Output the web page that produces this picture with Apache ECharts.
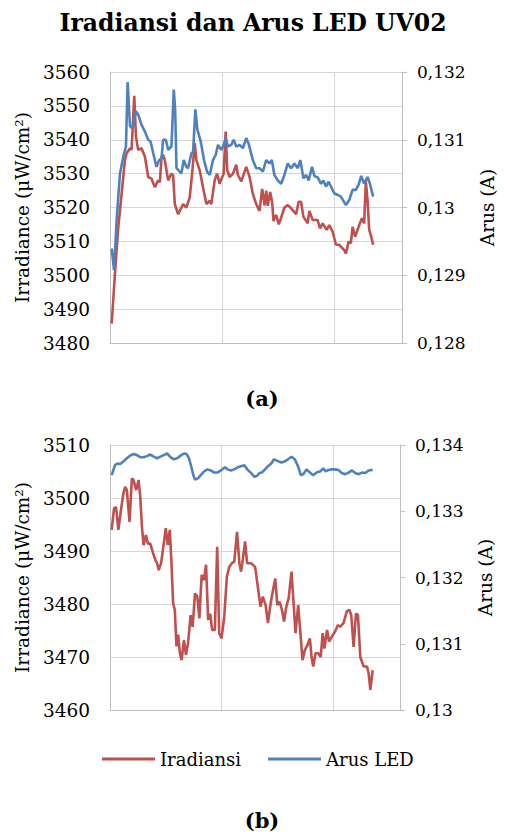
<!DOCTYPE html>
<html><head><meta charset="utf-8">
<script src="https://cdn.jsdelivr.net/npm/echarts@6/dist/echarts.min.js"></script>
<style>html,body{margin:0;padding:0;background:#fff}#c{width:505px;height:836px}</style>
</head><body><div id="c"></div>
<script>
// ---- Data (a) ----
const topIrrX = [1.5,4.4,7.4,10.4,13.3,14.8,17.8,19.2,21.6,23.1,25.1,28.1,31.1,34.0,37.0,39.9,42.9,44.4,45.9,47.3,48.8,51.8,54.7,56.2,57.7,60.7,63.6,65.1,68.0,71.0,73.4,75.4,76.9,79.9,82.8,85.8,88.8,90.2,93.2,95.3,97.6,101.2,103.0,104.4,106.5,109.5,112.4,113.9,116.9,121.3,124.3,127.2,130.2,133.1,135.5,137.6,139.1,140.5,142.6,144.4,145.6,147.9,150.3,152.4,155.3,158.3,161.2,165.7,168.0,170.1,172.2,176.0,177.5,180.5,184.9,187.0,189.3,192.9,195.3,198.2,201.2,204.1,208.6,210.1,212.4,214.5,216.0,218.3,221.9,224.3,226.3,227.8,229.3,230.8,232.2,234.3];
const topIrr = [3485.7,3500.5,3514.3,3524.2,3534,3536,3537.5,3537,3553,3541,3537,3537.5,3535,3529,3528.5,3526,3528,3527.5,3535,3535.5,3534,3528,3530,3529.5,3521,3518,3520,3521,3520,3523,3531,3539,3534,3531,3526,3521,3522,3521,3528,3530,3527,3530,3542.4,3531,3529,3530,3532.6,3529.6,3527.7,3532,3529,3524,3521,3519,3525.5,3520.6,3525,3520.5,3524.6,3521.5,3516,3517.8,3515,3517,3520,3520.7,3519.8,3518,3521.7,3521.7,3517.3,3515.3,3519,3516.3,3516.3,3513.8,3515.3,3513.4,3514.8,3512.9,3509,3509,3507.4,3506.4,3509.9,3509.5,3514.3,3511.4,3514.8,3516.8,3515.3,3527.7,3522.2,3513.4,3511.9,3509];
const topArusX = [1.5,3.6,5.9,8.9,11.8,14.2,15.7,17.8,19.2,20.7,23.1,25.1,28.1,31.1,34.0,36.1,38.5,41.4,43.8,45.9,47.3,49.7,51.8,54.7,56.8,58.0,59.2,62.1,63.6,65.7,68.0,69.5,72.5,74.0,76.0,77.8,80.8,83.7,86.4,88.8,91.7,94.1,96.2,99.1,101.2,103.0,105.0,108.0,110.1,112.4,115.4,118.3,121.3,123.7,127.2,130.2,133.1,136.1,139.1,142.0,144.1,146.4,149.4,152.4,155.3,158.3,161.2,164.2,167.2,169.5,172.2,174.6,176.9,179.9,182.0,184.9,187.9,190.0,192.3,194.7,196.7,199.7,202.7,205.6,210.1,213.0,216.0,218.9,221.3,223.7,226.3,229.3,231.4,234.3];
const topArus = [0.129395,0.129075,0.129815,0.1305,0.13075,0.1309,0.13185,0.1312,0.131175,0.13122,0.13142,0.13137,0.13122,0.13112,0.131,0.130975,0.1308,0.1306,0.1307,0.130725,0.131,0.131,0.13085,0.1309,0.13174,0.13145,0.13058,0.13053,0.130505,0.1307,0.1306,0.13058,0.1308,0.130825,0.13145,0.13115,0.130975,0.1307,0.13053,0.13048,0.1307,0.130775,0.130925,0.13085,0.130925,0.131025,0.1309,0.130925,0.131,0.1309,0.130925,0.130875,0.131025,0.130925,0.1307,0.13058,0.13058,0.13053,0.1307,0.13065,0.1307,0.13048,0.1304,0.13035,0.13048,0.13065,0.13058,0.13065,0.13058,0.1307,0.13043,0.13048,0.1304,0.1306,0.130465,0.130445,0.13035,0.1304,0.13031,0.13038,0.13031,0.13021,0.130185,0.13016,0.130035,0.13011,0.13026,0.13026,0.130335,0.130465,0.130355,0.13045,0.130355,0.13016];
// ---- Data (b) ----
const botIrrX = [1.5,3.6,5.4,7.5,9.6,12.0,13.6,15.1,17.5,19.6,21.1,23.5,25.6,27.1,28.6,30.1,32.2,34.0,36.1,38.6,40.7,42.2,43.7,45.8,48.2,50.0,51.8,53.6,55.1,56.6,58.1,59.6,61.1,62.7,64.2,66.3,68.1,69.9,72.3,74.1,76.2,78.3,80.1,82.2,84.3,86.1,88.0,89.8,91.6,94.0,96.1,97.9,100.0,102.4,104.8,106.9,109.3,111.4,113.9,116.0,117.5,119.0,121.1,122.9,126.5,130.1,132.5,134.9,137.0,139.5,141.6,144.0,146.1,148.2,150.0,152.1,154.2,156.0,158.1,160.2,162.7,164.8,166.3,168.7,170.5,172.6,174.7,177.1,179.2,180.7,182.2,184.3,186.7,188.9,190.7,192.2,194.6,196.4,198.8,201.8,204.2,206.3,209.3,212.3,214.5,216.3,218.4,220.5,222.3,224.4,227.4,230.4,231.9,233.4,235.5];
const botIrr = [3494,3498,3498.3,3494,3497.4,3500.9,3502.1,3501.5,3495.5,3503.7,3503.4,3501.5,3503.4,3500.3,3494.6,3491.1,3493,3491.4,3491.4,3489.6,3488.3,3487.7,3486.4,3487.7,3491.4,3494.3,3491.1,3494,3487.7,3480.1,3478.9,3472,3474.2,3470.7,3469.4,3473.2,3470.4,3472.5,3477.9,3475.7,3482,3481.4,3477.3,3485.5,3484.5,3487.4,3477,3478.2,3475.1,3475.1,3490.8,3474.5,3473.5,3477.6,3485.2,3487,3487.7,3488,3493.6,3487.7,3486.1,3488.3,3491.8,3487.7,3487.7,3487,3483.3,3479.5,3481.4,3479.8,3476.4,3480.1,3482.6,3484.8,3479.8,3480.4,3478.9,3476.7,3479.5,3481.1,3486.1,3479.5,3474.5,3479.8,3475.1,3469.4,3471.3,3472.3,3473.5,3470,3468.2,3470.7,3470.7,3470,3474.5,3471.6,3475.1,3472.9,3473.8,3474.8,3476,3475.7,3476.4,3478.6,3478.9,3477.9,3471.9,3478.2,3477.9,3470,3468.2,3468.2,3466.9,3463.8,3467.5];
const botArusX = [1.5,4.5,6.6,9.0,12.0,15.1,18.1,21.1,24.1,27.1,30.1,33.1,36.1,39.2,42.2,45.2,48.2,51.2,54.2,57.2,60.2,63.3,66.3,68.7,70.8,72.9,74.7,76.2,78.9,81.3,84.3,87.3,90.4,93.4,96.4,99.4,103.0,105.4,108.4,111.4,114.5,117.5,120.5,123.5,126.5,129.5,131.9,134.0,136.1,138.6,141.6,144.6,147.0,150.0,153.6,156.6,159.6,162.7,165.7,168.7,171.1,173.2,176.2,179.2,182.2,185.2,188.3,191.3,193.4,195.8,198.8,201.8,204.8,207.8,210.8,213.9,216.9,219.9,222.9,225.9,228.9,231.9,235.5];
const botArus = [0.133544,0.133696,0.13372,0.133712,0.133752,0.1338,0.13384,0.133864,0.133848,0.133816,0.133816,0.133832,0.133856,0.133824,0.1338,0.133824,0.133848,0.133872,0.133816,0.133784,0.1338,0.13384,0.133872,0.133864,0.1338,0.133672,0.133544,0.13348,0.133496,0.133544,0.1336,0.133632,0.133616,0.133584,0.133584,0.133616,0.133664,0.133632,0.133616,0.133632,0.133664,0.13368,0.133696,0.133624,0.133576,0.13352,0.133536,0.133576,0.133584,0.133624,0.13368,0.13372,0.133784,0.13376,0.133736,0.133752,0.133784,0.133824,0.133784,0.133672,0.133544,0.13356,0.133632,0.133584,0.133544,0.133584,0.1336,0.133648,0.1336,0.133624,0.133632,0.133632,0.133624,0.133576,0.13356,0.133584,0.133616,0.133576,0.13356,0.133584,0.133576,0.133616,0.133624];
// ---- Axis ranges [min, max, interval] ----
const xRange = [0, 260, 100];
const topIrrAxis = [3480, 3560, 10];
const topArusAxis = [0.128, 0.132, 0.001];
const botIrrAxis = [3460, 3510, 10];
const botArusAxis = [0.130, 0.134, 0.001];
const seriesNames = ['Iradiansi', 'Arus LED'];
const titleText = 'Iradiansi dan Arus LED UV02';
const yNameLeft = 'Irradiance (μW/cm²)';
const yNameRight = 'Arus (A)';

const RED = '#C0504D', BLUE = '#4F81BD';
const FONT = 'DejaVu Serif';
const GRID = '#D6D6D6', AXIS = '#BFBFBF';
const pairs = (xs, ys) => xs.map((x, i) => [x, ys[i]]);
const fmtA = v => String(+(+v).toFixed(3)).replace('.', ',');
const fmtI = v => String(Math.round(v));

function xAx(gi) {
  return { type: 'value', gridIndex: gi, min: xRange[0], max: xRange[1], interval: xRange[2],
    axisLabel: { show: false }, axisTick: { show: false },
    axisLine: { show: true, lineStyle: { color: AXIS, width: 1 } },
    splitLine: { show: true, lineStyle: { color: GRID, width: 1 } } };
}
function yLeft(gi, r) {
  return { type: 'value', gridIndex: gi, position: 'left', min: r[0], max: r[1], interval: r[2],
    name: yNameLeft, nameLocation: 'middle', nameGap: 75, nameRotate: 90,
    nameTextStyle: { fontFamily: FONT, fontSize: 18.5, color: '#000' },
    axisLabel: { fontFamily: FONT, fontSize: 18.5, color: '#000', margin: 20, formatter: fmtI },
    axisTick: { show: false },
    axisLine: { show: true, lineStyle: { color: AXIS, width: 1 } },
    splitLine: { show: true, lineStyle: { color: GRID, width: 1 } } };
}
function yRight(gi, r) {
  return { type: 'value', gridIndex: gi, position: 'right', min: r[0], max: r[1], interval: r[2],
    name: yNameRight, nameLocation: 'middle', nameGap: 76, nameRotate: 90,
    nameTextStyle: { fontFamily: FONT, fontSize: 18.5, color: '#000' },
    axisLabel: { fontFamily: FONT, fontSize: 17, color: '#000', margin: 15, formatter: fmtA },
    axisTick: { show: true, length: 5, lineStyle: { color: AXIS } },
    axisLine: { show: true, lineStyle: { color: AXIS, width: 1 } },
    splitLine: { show: false } };
}
function ln(name, xi, yi, data, color) {
  return { type: 'line', name, xAxisIndex: xi, yAxisIndex: yi, data, symbol: 'none',
    smooth: false, lineStyle: { color, width: 2.6 }, itemStyle: { color } };
}

const chart = echarts.init(document.getElementById('c'), null, { renderer: 'svg' });
chart.setOption({
  backgroundColor: '#fff',
  animation: false,
  grid: [
    { left: 110, right: 102, top: 72, height: 271 },
    { left: 110, right: 105, top: 445, height: 265 }
  ],
  xAxis: [xAx(0), xAx(1)],
  yAxis: [yLeft(0, topIrrAxis), yRight(0, topArusAxis), yLeft(1, botIrrAxis), yRight(1, botArusAxis)],
  legend: { data: seriesNames, left: 102, top: 750, padding: 0, icon: 'rect', itemWidth: 53, itemHeight: 3, itemGap: 27,
    textStyle: { fontFamily: FONT, fontSize: 18, color: '#000' } },
  graphic: [
    { type: 'text', x: 253, y: 23, style: { text: titleText, fontFamily: FONT, fontWeight: 'bold', fontSize: 23.5, fill: '#000', textAlign: 'center', textVerticalAlign: 'middle' } },
    { type: 'text', x: 262, y: 398, style: { text: '(a)', fontFamily: FONT, fontWeight: 'bold', fontSize: 21, fill: '#000', textAlign: 'center', textVerticalAlign: 'middle' } },
    { type: 'text', x: 262, y: 820, style: { text: '(b)', fontFamily: FONT, fontWeight: 'bold', fontSize: 21, fill: '#000', textAlign: 'center', textVerticalAlign: 'middle' } }
  ],
  series: [
    ln(seriesNames[0], 0, 0, pairs(topIrrX, topIrr), RED),
    ln(seriesNames[1], 0, 1, pairs(topArusX, topArus), BLUE),
    ln(seriesNames[0], 1, 2, pairs(botIrrX, botIrr), RED),
    ln(seriesNames[1], 1, 3, pairs(botArusX, botArus), BLUE)
  ]
});
</script></body></html>
